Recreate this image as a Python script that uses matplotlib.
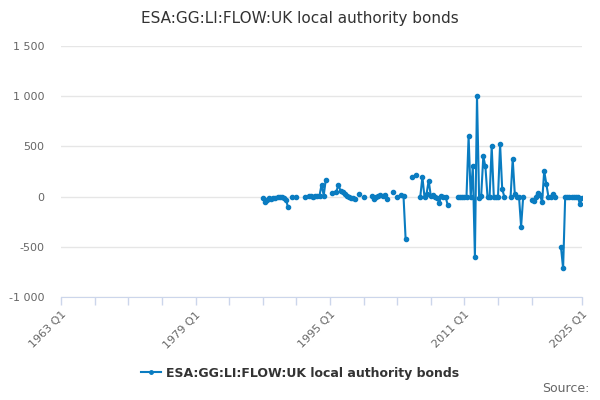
import numpy as np
import matplotlib.pyplot as plt
from matplotlib.lines import Line2D
from matplotlib.ticker import FuncFormatter

nan = np.nan

# quarterly values from 1987 Q1 to 2025 Q1 (gaps are missing quarters)
start_year = 1987
values = [
    -15, -50, -30, -15,      # 1987
    -20, -10, -15, -5,       # 1988
    0, -5, -10, -30,         # 1989
    -105, nan, 0, nan,       # 1990
    0, nan, nan, nan,        # 1991
    0, nan, 10, 5,           # 1992
    0, 10, 5, 10,            # 1993
    120, 10, 170, nan,       # 1994
    nan, 40, nan, 50,        # 1995
    115, 60, 45, 25,         # 1996
    5, 0, -15, -15,          # 1997
    -20, nan, 30, nan,       # 1998
    0, nan, nan, nan,        # 1999
    5, -20, 0, 10,           # 2000
    15, 10, 20, -25,         # 2001
    nan, nan, 50, nan,       # 2002
    0, nan, 20, 5,           # 2003
    -420, nan, nan, 200,     # 2004
    nan, 215, nan, 0,        # 2005
    195, -5, 30, 160,        # 2006
    5, 15, 0, -15,           # 2007
    -60, 5, 0, 0,            # 2008
    -80, nan, nan, nan,      # 2009
    nan, -5, 0, 0,           # 2010
    0, 0, 600, 0,            # 2011
    300, -600, 1000, -15,    # 2012
    10, 400, 300, 0,         # 2013
    0, 500, 0, 0,            # 2014
    0, 520, 75, 0,           # 2015
    nan, nan, 0, 375,        # 2016
    25, 0, 0, -300,          # 2017
    0, nan, nan, nan,        # 2018
    -35, -40, 0, 40,         # 2019
    15, -55, 255, 125,       # 2020
    0, 0, 25, 0,             # 2021
    nan, nan, -505, -715,    # 2022
    0, 0, 0, 0,              # 2023
    0, 0, 0, -75,            # 2024
    -15,                     # 2025
]
x = start_year + np.arange(len(values)) / 4

title = "ESA:GG:LI:FLOW:UK local authority bonds"
series_name = "ESA:GG:LI:FLOW:UK local authority bonds"
tick_years = list(range(1963, 2020, 4)) + [2025]
label_years = [1963, 1979, 1995, 2011, 2025]
y_ticks = [-1000, -500, 0, 500, 1000, 1500]

color = "#0a7cc1"

fig = plt.figure(figsize=(6, 4), dpi=100)
ax = fig.add_axes([0.102, 0.2575, 0.868, 0.6275])

ax.plot(x, values, color=color, linewidth=1.5, marker="o", markersize=3,
        solid_joinstyle="round")

ax.set_xlim(1963, 2025)
ax.set_ylim(-1000, 1500)
ax.set_yticks(y_ticks)
ax.yaxis.set_major_formatter(FuncFormatter(lambda v, p: f"{int(v):,}".replace(",", " ")))
ax.grid(axis="y", color="#e6e6e6", linewidth=1)
ax.set_axisbelow(True)

ax.set_xticks(tick_years)
ax.set_xticklabels([f"{y} Q1" if y in label_years else "" for y in tick_years])

for s in ["top", "right", "left"]:
    ax.spines[s].set_visible(False)
ax.spines["bottom"].set_color("#ccd6eb")
ax.tick_params(axis="y", length=0, pad=12, labelsize=8, labelcolor="#666666")
ax.tick_params(axis="x", length=6, color="#ccd6eb", width=1, pad=3,
               labelsize=8, labelcolor="#666666")
plt.setp(ax.get_xticklabels(), rotation=45, ha="right", rotation_mode="anchor")

fig.text(0.5, 0.953, title, ha="center", va="center", fontsize=11, color="#333333")

handle = Line2D([], [], color=color, linewidth=1.5, marker="o", markersize=2.5)
leg = fig.legend([handle], [series_name], loc="center", bbox_to_anchor=(0.5, 0.067),
                 frameon=False, handlelength=1.6, handletextpad=0.4,
                 prop={"size": 9, "weight": "bold"})
for t in leg.get_texts():
    t.set_color("#333333")

fig.text(0.982, 0.03, "Source:", ha="right", va="center", fontsize=9, color="#666666")

fig.savefig("out.png", dpi=100)
